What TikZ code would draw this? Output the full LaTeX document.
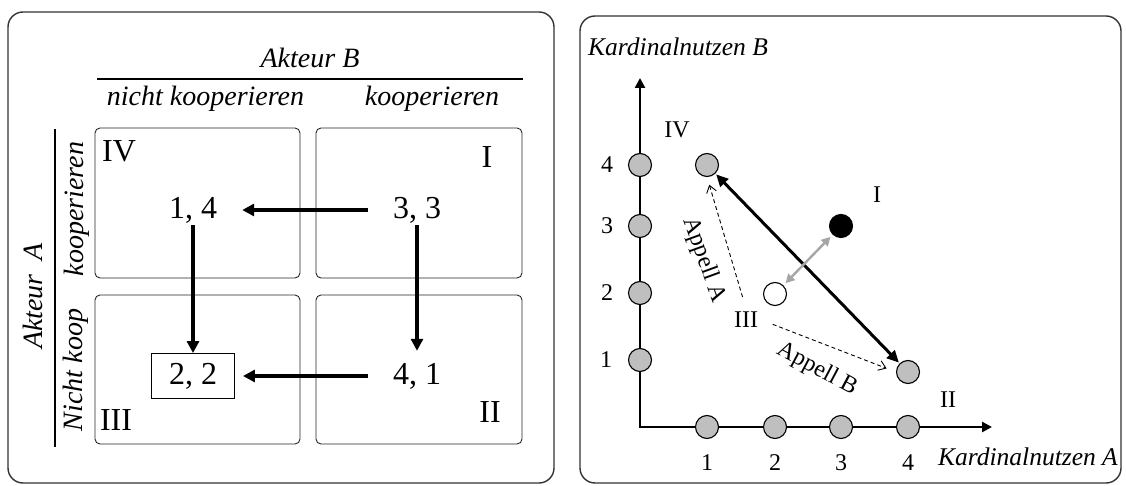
\documentclass[tikz,border=0pt]{standalone}
\usepackage{fontspec}
\setmainfont{Liberation Serif}
\usepackage{tikz}
\usetikzlibrary{arrows.meta,positioning}

\newcommand{\cellfont}{\fontsize{32pt}{38pt}\selectfont}
\newcommand{\headfont}{\fontsize{28pt}{33pt}\selectfont\itshape}
\newcommand{\axisfont}{\fontsize{25.5pt}{30pt}\selectfont\itshape}
\newcommand{\tickfont}{\fontsize{24pt}{28pt}\selectfont}

\begin{document}
\begin{tikzpicture}[x=1pt, y=-1pt,
    panel/.style={draw=black!80, line width=1.4pt, rounded corners=15pt},
    cell/.style={draw=black!85, line width=0.9pt, rounded corners=5pt},
    head/.style={font=\headfont, inner sep=0pt},
    payoff/.style={font=\cellfont, inner xsep=25pt, inner ysep=2pt},
    roman/.style={font=\cellfont, inner sep=0pt},
    bigarrow/.style={line width=3.3pt, -{Triangle[length=12pt,width=12pt]}},
    axisline/.style={line width=2.8pt, {Triangle[length=10pt,width=10pt]}-{Triangle[length=10pt,width=10pt]}},
    dotnode/.style={circle, draw, line width=1.1pt, fill=gray!50, minimum size=23pt, inner sep=0pt},
    ticknum/.style={font=\tickfont},
    axlabel/.style={font=\axisfont, inner sep=3pt},
    tradeline/.style={line width=3pt, {Triangle[length=12pt,width=11pt]}-{Triangle[length=12pt,width=11pt]}, shorten <=1pt, shorten >=1pt},
    gaparrow/.style={draw=gray!70, line width=2.4pt, {Triangle[length=9pt,width=9pt]}-{Triangle[length=9pt,width=9pt]}, shorten <=3pt, shorten >=3pt},
    appell/.style={dash pattern=on 4pt off 3pt, line width=0.9pt, -{Straight Barb[length=7pt,width=10pt]}}]
    \useasboundingbox (0,0) rectangle (1126,486);

    % Spielmatrix
    \draw[panel] (8,12) rectangle (554,483);
    \node[head] (hB) at (310,57.5) {Akteur B};
    \draw[line width=2pt] (97,79) -- (523,79);
    \node[head] (hNK) at (205.5,98.5) {nicht kooperieren};
    \node[head] (hK) at (432,98.5) {kooperieren};
    \node[head, rotate=90] (hA) at (33,296) {Akteur\ \ A};
    \draw[line width=2pt] (55,129) -- (55,447);
    \node[head, rotate=90] (hAK) at (77,209) {kooperieren};
    \node[head, rotate=90] (hANK) at (76,370) {Nicht koop};

    \draw[cell] (95,128) rectangle (300,278);
    \draw[cell] (316,128) rectangle (522,278);
    \draw[cell] (95,295) rectangle (300,444);
    \draw[cell] (316,295) rectangle (522,444);

    \node[roman] (rIV) at (119,151) {IV};
    \node[roman] (rI) at (487,157.5) {I};
    \node[roman] (rIII) at (116,420) {III};
    \node[roman] (rII) at (490,412) {II};

    \node[payoff] (p14) at (193,210) {1, 4};
    \node[payoff] (p33) at (417,210) {3, 3};
    \node[payoff] (p41) at (417,376) {4, 1};
    \node[draw, line width=0.9pt, font=\cellfont, minimum width=83pt, minimum height=45pt, inner sep=0pt] (p22) at (193,376) {2, 2};

    \draw[bigarrow] (p33) -- (p14);
    \draw[bigarrow, shorten >=8pt] (p41) -- (p22);
    \draw[bigarrow] (p14) -- (p22);
    \draw[bigarrow, shorten >=10pt] (p33) -- (p41);

    % Nutzendiagramm
    \draw[panel] (580,16) rectangle (1121,483);
    \node[axlabel, anchor=west] (kB) at (585,47) {Kardinalnutzen B};
    \node[axlabel, anchor=east] (kA) at (1121,457) {Kardinalnutzen A};

    \coordinate (O) at (640,427);
    \coordinate (ytop) at (640,78);
    \coordinate (xend) at (992,427);
    \draw[axisline] (ytop) -- (O) -- (xend);

    \node[dotnode] (ty4) at (640,165) {};
    \node[dotnode] (ty3) at (640,226) {};
    \node[dotnode] (ty2) at (640,293) {};
    \node[dotnode] (ty1) at (640,360) {};
    \node[ticknum] (ny4) at (607,165) {4};
    \node[ticknum] (ny3) at (607,226) {3};
    \node[ticknum] (ny2) at (607,293) {2};
    \node[ticknum] (ny1) at (606,360) {1};

    \node[dotnode] (tx1) at (707,427) {};
    \node[dotnode] (tx2) at (775,427) {};
    \node[dotnode] (tx3) at (841,427) {};
    \node[dotnode] (tx4) at (908,427) {};
    \node[ticknum] (nx1) at (707,463) {1};
    \node[ticknum] (nx2) at (775,463) {2};
    \node[ticknum] (nx3) at (841,463) {3};
    \node[ticknum] (nx4) at (908,463) {4};

    \node[dotnode] (qIV) at (707,165) {};
    \node[dotnode, fill=black] (qI) at (841,226) {};
    \node[dotnode, fill=white] (qIII) at (775,294) {};
    \node[dotnode] (qII) at (908,372) {};

    \node[ticknum] (lIV) at (677,130) {IV};
    \node[ticknum] (lI) at (877,195) {I};
    \node[ticknum] (lIII) at (746,320) {III};
    \node[ticknum] (lII) at (948,400) {II};

    \draw[tradeline] (qIV) -- (qII);
    \draw[gaparrow] (qIII) -- (qI);
    \draw[appell, shorten <=12pt, shorten >=8pt] (lIII.north) -- (qIV.south);
    \draw[appell, shorten <=12pt, shorten >=10pt] (lIII.east) -- (qII.west);
    \node[ticknum, rotate=-70] (tA) at (704,260) {Appell A};
    \node[ticknum, rotate=-28] (tB) at (817,369) {Appell B};
\end{tikzpicture}
\end{document}
